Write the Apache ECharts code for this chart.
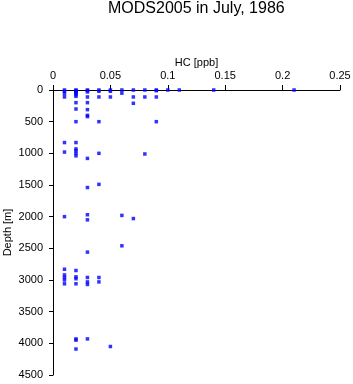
<!DOCTYPE html>
<html>
<head>
<meta charset="utf-8">
<script src="https://cdn.jsdelivr.net/npm/echarts@6/dist/echarts.min.js"></script>
<style>html,body{margin:0;padding:0;background:#fff}#c{width:353px;height:384px}</style>
</head>
<body>
<div id="c"></div>
<script>
// HC concentration levels (ppb) and depths (m) measured at each level
const hcLevels = [0.01, 0.02, 0.03, 0.04, 0.05, 0.06, 0.07, 0.08, 0.09, 0.10, 0.11, 0.14, 0.21];
const depthsAt001 = [0, 20, 60, 110, 830, 980, 2000, 2830, 2920, 2960, 3000, 3060];
const depthsAt002 = [0, 10, 20, 30, 50, 75, 100, 200, 300, 500, 830, 930, 960, 1000, 1040, 2850, 2950, 2980, 3060, 3930, 3950, 4090];
const depthsAt003 = [0, 10, 30, 110, 200, 310, 400, 420, 1080, 1540, 1970, 2050, 2560, 2960, 3030, 3070, 3930];
const depthsAt004 = [0, 20, 110, 500, 1000, 1490, 2960, 3030];
const depthsAt005 = [0, 20, 110, 4050];
const depthsAt006 = [0, 50, 1980, 2460];
const depthsAt007 = [0, 110, 210, 2030];
const depthsAt008 = [0, 110, 1010];
const depthsAt009 = [0, 10, 110, 500];
const depthsAt010 = [0];
const depthsAt011 = [0];
const depthsAt014 = [0];
const depthsAt021 = [0];
const depthGroups = [depthsAt001, depthsAt002, depthsAt003, depthsAt004, depthsAt005, depthsAt006, depthsAt007, depthsAt008, depthsAt009, depthsAt010, depthsAt011, depthsAt014, depthsAt021];

const points = [];
hcLevels.forEach((hc, i) => depthGroups[i].forEach(d => points.push([hc, d])));

const font = 'Liberation Sans, Arial, sans-serif';
const chart = echarts.init(document.getElementById('c'), null, {renderer: 'canvas'});
chart.setOption({
  animation: false,
  backgroundColor: '#fff',
  title: {
    text: 'MODS2005 in July, 1986',
    left: 108, top: 1, padding: 0,
    textStyle: {fontFamily: font, fontSize: 16, fontWeight: 'normal', color: '#000'}
  },
  grid: {left: 53, right: 13, top: 90, bottom: 9, containLabel: false, outerBoundsMode: 'none'},
  xAxis: {
    type: 'value', position: 'top', min: 0, max: 0.25, interval: 0.05,
    name: 'HC [ppb]', nameLocation: 'middle', nameGap: 22, nameMoveOverlap: false,
    nameTextStyle: {fontFamily: font, fontSize: 11, color: '#000'},
    axisLine: {show: true, onZero: false, lineStyle: {color: '#000', width: 1}},
    axisTick: {show: true, inside: false, length: 5, lineStyle: {color: '#000'}},
    axisLabel: {fontFamily: font, fontSize: 11, color: '#000', margin: 9, formatter: v => String(v)},
    splitLine: {show: false}
  },
  yAxis: {
    type: 'value', inverse: true, min: 0, max: 4500, interval: 500,
    name: 'Depth [m]', nameLocation: 'middle', nameGap: 40, nameMoveOverlap: false,
    nameTextStyle: {fontFamily: font, fontSize: 11, color: '#000'},
    axisLine: {show: true, onZero: false, lineStyle: {color: '#000', width: 1}},
    axisTick: {show: true, inside: false, length: 4, lineStyle: {color: '#000'}},
    axisLabel: {fontFamily: font, fontSize: 11, color: '#000', margin: 10, formatter: v => String(v)},
    splitLine: {show: false}
  },
  series: [{
    type: 'scatter', data: points, symbol: 'rect', symbolSize: 3.5,
    itemStyle: {color: '#0000ff'}
  }]
});
</script>
</body>
</html>
